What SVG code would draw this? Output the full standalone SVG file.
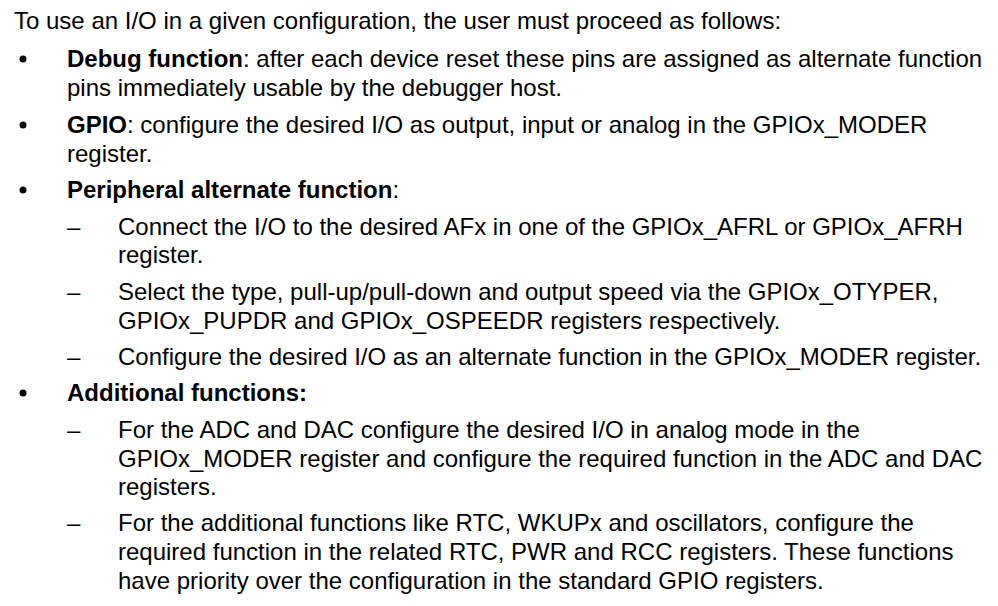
<svg xmlns="http://www.w3.org/2000/svg" width="998" height="606" viewBox="0 0 998 606">
<style>
text{font-family:"Liberation Sans",Arial,sans-serif;font-size:24px;fill:#000}
.b{font-weight:bold}
</style>
<rect width="998" height="606" fill="#fff"/>
<text x="14" y="29">To use an I/O in a given configuration, the user must proceed as follows:</text>
<g id="bullets">
<circle cx="23" cy="59" r="3.5"/>
<circle cx="23" cy="125" r="3.5"/>
<circle cx="23" cy="190" r="3.5"/>
<circle cx="23" cy="393" r="3.5"/>
</g>
<text x="67" y="67"><tspan class="b">Debug function</tspan>: after each device reset these pins are assigned as alternate function</text>
<text x="67" y="96">pins immediately usable by the debugger host.</text>
<text x="67" y="133"><tspan class="b">GPIO</tspan>: configure the desired I/O as output, input or analog in the GPIOx_MODER</text>
<text x="67" y="162">register.</text>
<text x="67" y="198"><tspan class="b">Peripheral alternate function</tspan>:</text>
<text x="67" y="235">–</text>
<text x="118" y="235">Connect the I/O to the desired AFx in one of the GPIOx_AFRL or GPIOx_AFRH</text>
<text x="118" y="263">register.</text>
<text x="67" y="300">–</text>
<text x="118" y="300">Select the type, pull-up/pull-down and output speed via the GPIOx_OTYPER,</text>
<text x="118" y="329">GPIOx_PUPDR and GPIOx_OSPEEDR registers respectively.</text>
<text x="67" y="365">–</text>
<text x="118" y="365">Configure the desired I/O as an alternate function in the GPIOx_MODER register.</text>
<text x="67" y="401" class="b">Additional functions:</text>
<text x="67" y="438">–</text>
<text x="118" y="438">For the ADC and DAC configure the desired I/O in analog mode in the</text>
<text x="118" y="467">GPIOx_MODER register and configure the required function in the ADC and DAC</text>
<text x="118" y="495">registers.</text>
<text x="67" y="531">–</text>
<text x="118" y="531">For the additional functions like RTC, WKUPx and oscillators, configure the</text>
<text x="118" y="560">required function in the related RTC, PWR and RCC registers. These functions</text>
<text x="118" y="589">have priority over the configuration in the standard GPIO registers.</text>
</svg>
